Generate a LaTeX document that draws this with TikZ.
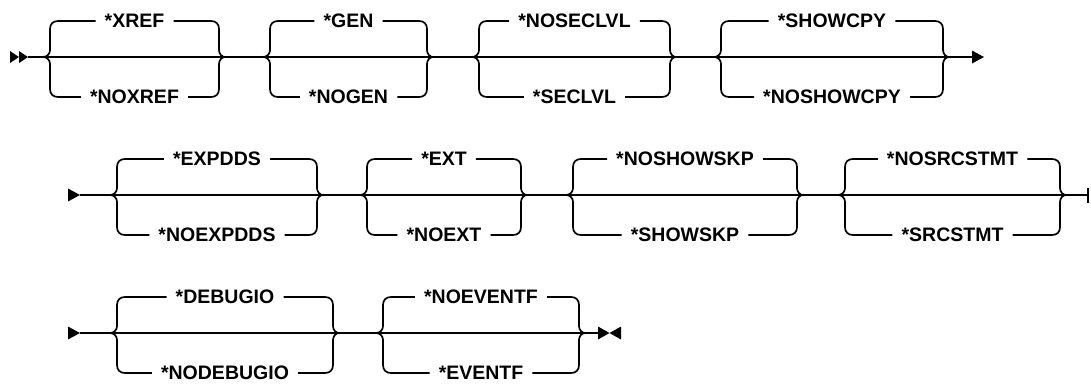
\documentclass[tikz,border=0pt]{standalone}
\usepackage{fontspec}
\setmainfont{Liberation Sans}
\tikzset{
  lbl/.style={font=\fontsize{19.5}{19.5}\selectfont\bfseries, text height=13.8pt, text depth=0pt, inner xsep=9pt, inner ysep=0pt, anchor=center},
  rail/.style={line width=1.7pt, line join=round},
  tip/.style={fill=black}
}
\newcommand\syngroup[6]{% name, left junction x, right vertical x, main y, top text, bottom text
  \pgfmathsetmacro\sgVL{#2+7}
  \pgfmathsetmacro\sgVR{#3}
  \pgfmathsetmacro\sgC{(\sgVL+\sgVR)/2}
  \coordinate (#1L) at (#2,#4);
  \coordinate (#1R) at (#3+6,#4);
  \node[lbl] (#1t) at (\sgC,#4-36) {#5};
  \node[lbl] (#1b) at (\sgC,#4+40) {#6};
  \draw[rail] (#1L) .. controls (\sgVL-3,#4) and (\sgVL,#4-3) .. (\sgVL,#4-7) -- (\sgVL,#4-28)
      .. controls (\sgVL,#4-33) and (\sgVL+3,#4-36) .. (\sgVL+8,#4-36) -- (#1t.west);
  \draw[rail] (#1L) .. controls (\sgVL-3,#4) and (\sgVL,#4+3) .. (\sgVL,#4+7) -- (\sgVL,#4+32)
      .. controls (\sgVL,#4+37) and (\sgVL+3,#4+40) .. (\sgVL+8,#4+40) -- (#1b.west);
  \draw[rail] (#1t.east) -- (\sgVR-8,#4-36) .. controls (\sgVR-3,#4-36) and (\sgVR,#4-33) .. (\sgVR,#4-28)
      -- (\sgVR,#4-7) .. controls (\sgVR,#4-3) and (\sgVR+3,#4) .. (#1R);
  \draw[rail] (#1b.east) -- (\sgVR-8,#4+40) .. controls (\sgVR-3,#4+40) and (\sgVR,#4+37) .. (\sgVR,#4+32)
      -- (\sgVR,#4+7) .. controls (\sgVR,#4+3) and (\sgVR+3,#4) .. (#1R);
}
\begin{document}
\begin{tikzpicture}[x=1pt,y=-1pt]
\useasboundingbox (0,0) rectangle (1091,383);
% ---------- row 1 ----------
\coordinate (r1s) at (28,57);
\coordinate (r1e) at (972,57);
\fill[tip] (r1s) -- ++(-9,-6) -- ++(0,12) -- cycle;
\fill[tip] (19,57) -- ++(-9,-6) -- ++(0,12) -- cycle;
\draw[rail] (r1s) -- (r1e);
\fill[tip] (r1e) -- ++(0,-6.5) -- ++(12,6.5) -- ++(-12,6.5) -- cycle;
\syngroup{a}{43}{219}{57}{*XREF}{*NOXREF}
\syngroup{b}{263}{427}{57}{*GEN}{*NOGEN}
\syngroup{c}{472}{670}{57}{*NOSECLVL}{*SECLVL}
\syngroup{d}{714}{943}{57}{*SHOWCPY}{*NOSHOWCPY}
% ---------- row 2 ----------
\coordinate (r2s) at (80,195);
\coordinate (r2e) at (1088,195);
\fill[tip] (r2s) -- ++(-12,-6.5) -- ++(0,13) -- cycle;
\draw[rail] (r2s) -- (r2e);
\draw[line width=2pt] (r2e) ++(0,-7.5) -- ++(0,15);
\syngroup{e}{110}{317}{195}{*EXPDDS}{*NOEXPDDS}
\syngroup{f}{360}{521}{195}{*EXT}{*NOEXT}
\syngroup{g}{566}{797}{195}{*NOSHOWSKP}{*SHOWSKP}
\syngroup{h}{838}{1060}{195}{*NOSRCSTMT}{*SRCSTMT}
% ---------- row 3 ----------
\coordinate (r3s) at (80,333);
\coordinate (r3e) at (598,333);
\fill[tip] (r3s) -- ++(-12,-6.5) -- ++(0,13) -- cycle;
\draw[rail] (r3s) -- (r3e);
\fill[tip] (r3e) -- ++(0,-6.5) -- ++(11.5,6.5) -- ++(-11.5,6.5) -- cycle;
\fill[tip] (621,333) -- ++(0,-6.5) -- ++(-11.5,6.5) -- ++(11.5,6.5) -- cycle;
\syngroup{i}{110}{333}{333}{*DEBUGIO}{*NODEBUGIO}
\syngroup{j}{376}{579}{333}{*NOEVENTF}{*EVENTF}
\end{tikzpicture}
\end{document}
